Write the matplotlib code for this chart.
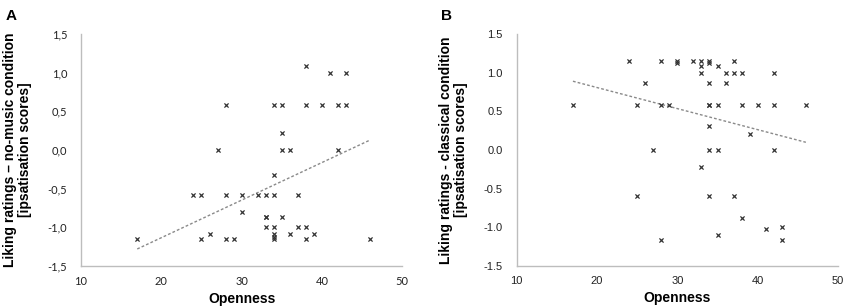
import matplotlib.pyplot as plt
from matplotlib.ticker import FuncFormatter

# Openness vs liking (panel A: no-music condition)
open_a = [17, 24, 25, 25, 26, 27, 28, 28, 28, 29, 30, 30, 32, 33, 33, 33, 33,
          34, 34, 34, 34, 34, 34, 34, 35, 35, 35, 35, 36, 36, 37, 37,
          38, 38, 38, 38, 39, 40, 41, 42, 42, 43, 43, 46]
like_a = [-1.15, -0.58, -0.58, -1.15, -1.09, 0.0, 0.58, -0.58, -1.15, -1.15, -0.58, -0.80,
          -0.58, -0.58, -0.87, -0.87, -1.0,
          0.58, -0.32, -0.58, -1.0, -1.09, -1.12, -1.15, 0.58, 0.22, 0.0, -0.87, 0.0, -1.09,
          -0.58, -1.0, 1.09, 0.58, -1.0, -1.15, -1.09, 0.58, 1.0, 0.58, 0.0, 1.0, 0.58, -1.15]

# panel B: classical condition
open_b = [17, 24, 25, 25, 26, 27, 28, 28, 28, 29, 30, 30, 32, 33, 33, 33, 33,
          34, 34, 34, 34, 34, 34, 34, 34, 35, 35, 35, 35, 36, 36, 37, 37, 37,
          38, 38, 38, 39, 40, 41, 42, 42, 42, 43, 43, 46]
like_b = [0.58, 1.15, 0.58, -0.59, 0.87, 0.0, 1.15, 0.58, -1.16, 0.58, 1.15, 1.12,
          1.15, 1.15, 1.09, 1.0, -0.22,
          1.15, 1.12, 0.87, 0.58, 0.58, 0.31, 0.0, -0.59, 1.09, 0.58, 0.0, -1.10,
          1.0, 0.87, 1.15, 1.0, -0.59, 1.0, 0.58, -0.88, 0.21, 0.58, -1.02,
          1.0, 0.58, 0.0, -1.0, -1.16, 0.58]

# linear trend lines
trend_x = [17, 46]
trend_a = [-1.28, 0.13]
trend_b = [0.89, 0.10]

yticks = [-1.5, -1.0, -0.5, 0.0, 0.5, 1.0, 1.5]
xticks = [10, 20, 30, 40, 50]

fig = plt.figure(figsize=(8.5, 3.08), dpi=100)
ax_a = fig.add_axes([0.0953, 0.1364, 0.378, 0.753])
ax_b = fig.add_axes([0.6079, 0.1364, 0.378, 0.753])

panels = [
    (ax_a, open_a, like_a, trend_a, 'A',
     'Liking ratings \u2013 no-music condition\n[ipsatisation scores]', ',', 'Lato'),
    (ax_b, open_b, like_b, trend_b, 'B',
     'Liking ratings - classical condition\n[ipsatisation scores]', '.', 'Liberation Sans'),
]

for ax, xs, ys, tr, letter, ylab, sep, tickfont in panels:
    ax.plot(trend_x, tr, color='#8a8a8a', lw=1, linestyle=(0, (2, 1.5)))
    ax.scatter(xs, ys, marker='x', s=9, color='#333333', linewidths=0.9, zorder=3)
    ax.set_xlim(10, 50)
    ax.set_ylim(-1.5, 1.5)
    ax.set_xticks(xticks)
    ax.set_yticks(yticks)
    ax.yaxis.set_major_formatter(FuncFormatter(lambda v, p, s=sep: f'{v:.1f}'.replace('.', s)))
    for sp in ['top', 'right']:
        ax.spines[sp].set_visible(False)
    for sp in ['left', 'bottom']:
        ax.spines[sp].set_color('#bdbdbd')
        ax.spines[sp].set_linewidth(1)
    ax.tick_params(length=0, labelsize=8, colors='#222222')
    ax.tick_params(axis='x', pad=7)
    ax.tick_params(axis='y', pad=10)
    for lbl in ax.get_xticklabels() + ax.get_yticklabels():
        lbl.set_family(tickfont)
    ax.set_xlabel('Openness', fontsize=10, fontweight='bold', family='Liberation Sans', labelpad=4)
    ax.set_ylabel(ylab, fontsize=10, fontweight='bold', family='Liberation Sans', labelpad=11,
                  linespacing=1.15)
    ax.text(-0.235, 1.11, letter, transform=ax.transAxes, fontsize=11, fontweight='bold',
            family='Liberation Sans', va='top')

fig.savefig('out.png', dpi=100)
